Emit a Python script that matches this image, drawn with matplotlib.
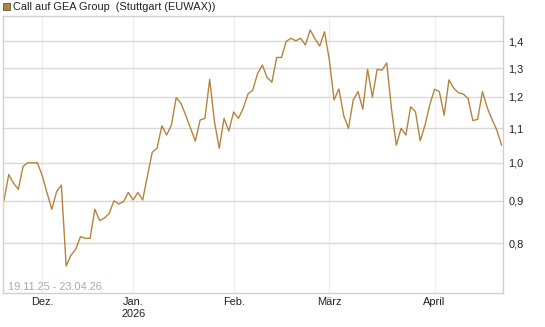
import numpy as np
import pandas as pd
import matplotlib
matplotlib.use("Agg")
import matplotlib.pyplot as plt
from matplotlib.patches import Rectangle
from matplotlib.ticker import FixedLocator, NullLocator

plt.rcParams['font.family'] = ['Liberation Sans', 'DejaVu Sans']

# Handelstage (EUWAX), Feiertage ausgelassen
holidays = ['2025-12-24', '2025-12-25', '2025-12-26', '2025-12-31',
            '2026-01-01', '2026-04-03', '2026-04-06']
dates = pd.bdate_range('2025-11-19', '2026-04-23', freq='C', holidays=holidays)

# Kurse
prices = [
    0.900, 0.968, 0.945, 0.929, 0.990, 1.000, 1.000, 1.000, 0.965, 0.920,
    0.879, 0.923, 0.940, 0.751, 0.774, 0.787, 0.815, 0.811, 0.811, 0.879,
    0.852, 0.858, 0.869, 0.900, 0.892, 0.898, 0.921, 0.902, 0.921, 0.902,
    0.965, 1.030, 1.041, 1.108, 1.080, 1.110, 1.198, 1.179, 1.140, 1.100,
    1.062, 1.126, 1.131, 1.260, 1.120, 1.041, 1.131, 1.092, 1.151, 1.131,
    1.163, 1.210, 1.223, 1.280, 1.311, 1.267, 1.250, 1.339, 1.339, 1.400,
    1.412, 1.402, 1.412, 1.386, 1.445, 1.410, 1.382, 1.438, 1.330, 1.190,
    1.227, 1.140, 1.100, 1.190, 1.218, 1.160, 1.296, 1.199, 1.296, 1.292,
    1.319, 1.160, 1.050, 1.100, 1.080, 1.168, 1.152, 1.063, 1.110, 1.175,
    1.226, 1.218, 1.141, 1.258, 1.230, 1.214, 1.210, 1.195, 1.124, 1.128,
    1.218, 1.165, 1.128, 1.095, 1.050,
]

y_ticks = [0.8, 0.9, 1.0, 1.1, 1.2, 1.3, 1.4]
month_names = {12: 'Dez.', 1: 'Jan.\n2026', 2: 'Feb.', 3: 'März', 4: 'April'}

line_color = '#b5843c'
fs = 7.9

x = np.arange(len(dates))
month_idx = [i for i in range(1, len(dates)) if dates[i].month != dates[i - 1].month]

fig = plt.figure(figsize=(5.45, 3.27), dpi=100)
ax = fig.add_axes([3 / 545, 34 / 327, 500 / 545, 277 / 327])

ax.plot(x, prices, color=line_color, lw=1.0)

ax.set_yscale('log')
ax.set_ylim(0.697, 1.502)
ax.set_xlim(-0.2, 104.3)

ax.yaxis.set_major_locator(FixedLocator(y_ticks))
ax.yaxis.set_minor_locator(NullLocator())
ax.set_yticklabels([f'{v:.1f}'.replace('.', ',') for v in y_ticks])
ax.yaxis.tick_right()
ax.tick_params(axis='y', length=0, pad=4, labelsize=fs, colors='#222222')

ax.set_xticks(month_idx)
ax.set_xticklabels([month_names[dates[i].month] for i in month_idx])
ax.tick_params(axis='x', length=0, pad=3, labelsize=fs, colors='#222222')

ax.grid(axis='y', color='#d9d9d9', lw=1.0)
ax.grid(axis='x', color='#eeeeee', lw=1.0)
ax.set_axisbelow(True)
for s in ax.spines.values():
    s.set_color('#d0d0d0')
    s.set_linewidth(1.0)

ax.text(0.01, 0.004, '19.11.25 - 23.04.26', transform=ax.transAxes,
        fontsize=fs, color='#a3abbb', ha='left', va='bottom')

# Legende oben links
fig.patches.append(Rectangle((3 / 545, 1 - 10 / 327), 7 / 545, 7 / 327,
                             transform=fig.transFigure, facecolor=line_color,
                             edgecolor='#555555', lw=0.6))
fig.text(13 / 545, 1 - 6.5 / 327, 'Call auf GEA Group  (Stuttgart (EUWAX))',
         fontsize=fs, color='#222222', ha='left', va='center')

fig.savefig('out.png', dpi=100)
